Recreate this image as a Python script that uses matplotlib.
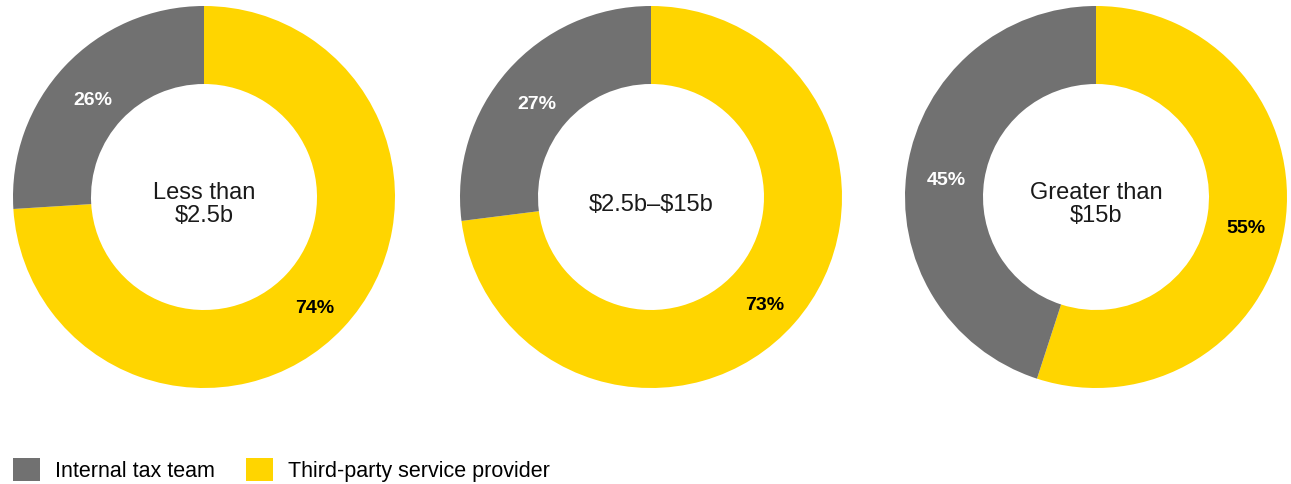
import numpy as np
import matplotlib
matplotlib.use("Agg")
from matplotlib import pyplot as plt
from matplotlib.patches import Patch

plt.rcParams.update({
    "font.family": ["Liberation Sans", "DejaVu Sans"],
    "text.parse_math": False,
})

# data
groups = ["Less than\n$2.5b", "$2.5b\u2013$15b", "Greater than\n$15b"]
third_party = [74, 73, 55]
internal = [26, 27, 45]
series_names = ["Internal tax team", "Third-party service provider"]

grey = "#717171"
yellow = "#FFD500"

W, H = 1291, 484
fig = plt.figure(figsize=(W / 100, H / 100), dpi=100)

centers_x = [204, 651, 1096]  # px
center_y = 197
r_out = 191
r_in = 113
width = (r_out - r_in) / r_out
label_r = (r_out + r_in) / 2 / r_out

for cx, name, tp, it in zip(centers_x, groups, third_party, internal):
    ax = fig.add_axes([(cx - r_out) / W, (H - center_y - r_out) / H, 2 * r_out / W, 2 * r_out / H])
    vals = [tp, it]
    wedges, _ = ax.pie(vals, colors=[yellow, grey], startangle=90, counterclock=False,
                       radius=1, wedgeprops=dict(width=width, linewidth=0))
    ax.set_xlim(-1, 1)
    ax.set_ylim(-1, 1)
    ax.set_aspect("equal")
    ax.axis("off")
    for w, v, c in zip(wedges, vals, ["black", "white"]):
        ang = np.deg2rad((w.theta1 + w.theta2) / 2)
        ax.text(label_r * np.cos(ang), label_r * np.sin(ang) - 0.04, f"{v}%", ha="center", va="center",
                fontsize=14, fontweight="bold", color=c)
    ax.text(0, -0.04, name, ha="center", va="center", fontsize=17, linespacing=1.1, color="#1a1a1a")

handles = [Patch(facecolor=grey, label=series_names[0]),
           Patch(facecolor=yellow, label=series_names[1])]
fig.legend(handles=handles, loc="lower left", bbox_to_anchor=(-6 / W, -17 / H), ncol=2, frameon=False,
           fontsize=15.5, handlelength=1.25, handleheight=1.25, handletextpad=0.7, columnspacing=1.45)

fig.savefig("out.png", dpi=100)
